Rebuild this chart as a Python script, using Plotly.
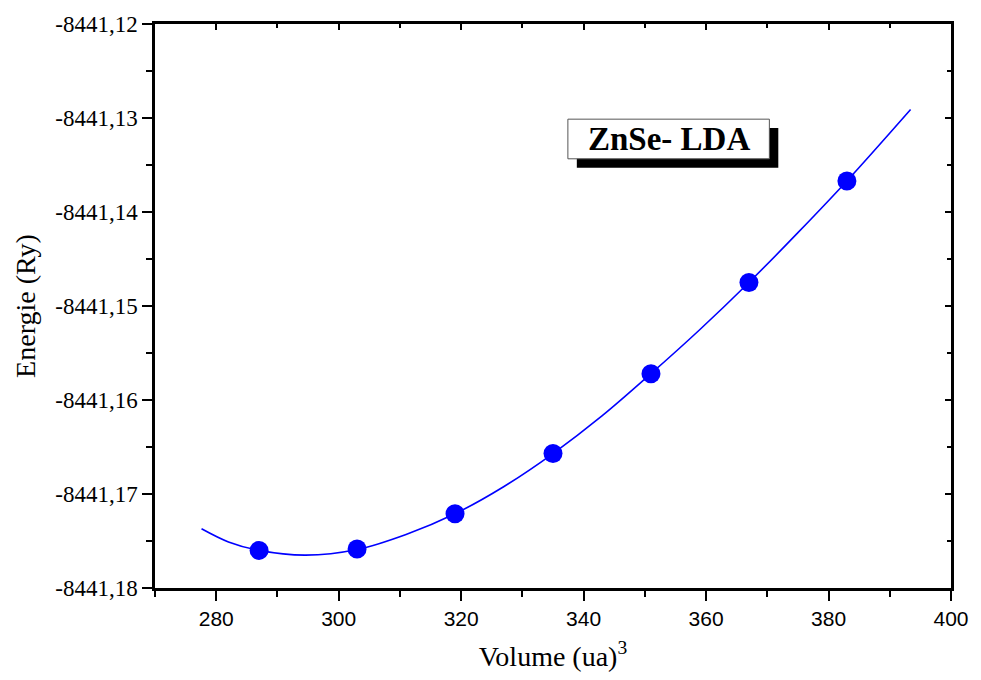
import plotly.graph_objects as go

# ---- data ----
volume = [287, 303, 319, 335, 351, 367, 383]
energy = [-8441.1760, -8441.17585, -8441.1721, -8441.1657, -8441.1572, -8441.1475, -8441.1367]

fit_volume = [277.6, 282, 287, 294.6, 303, 311, 319, 327, 335, 343, 351, 359, 367, 375, 383, 393.4]
fit_energy = [-8441.1737, -8441.1751, -8441.1760, -8441.1765, -8441.1759, -8441.1743,
              -8441.1721, -8441.1692, -8441.1657, -8441.1617, -8441.1572, -8441.1525,
              -8441.1475, -8441.1422, -8441.1367, -8441.1291]

xtick_vals = [280, 300, 320, 340, 360, 380, 400]
xtick_text = ["280", "300", "320", "340", "360", "380", "400"]
ytick_vals = [-8441.18, -8441.17, -8441.16, -8441.15, -8441.14, -8441.13, -8441.12]
ytick_text = ["-8441,18", "-8441,17", "-8441,16", "-8441,15", "-8441,14", "-8441,13", "-8441,12"]

label_text = "ZnSe- LDA"
x_title = "Volume (ua)<sup>3</sup>"
y_title = "Energie (Ry)"

X_RANGE = [270, 400]
Y_RANGE = [-8441.18, -8441.12]

# ---- layout geometry (pixels) ----
W, H = 981, 680
L, R, T, B = 155, 957, 19, 588
PW, PH = R - L, B - T


def px(xp):
    return (xp - L) / PW


def py(yp):
    return (B - yp) / PH


BLUE = "#0000ff"
SERIF = "Liberation Serif, Times New Roman, serif"
SANS = "Liberation Sans, Arial, sans-serif"

fig = go.Figure()
fig.add_trace(go.Scatter(x=fit_volume, y=fit_energy, mode="lines",
                         line=dict(color=BLUE, width=1.6, shape="spline", smoothing=1.0),
                         showlegend=False, hoverinfo="skip"))
fig.add_trace(go.Scatter(x=volume, y=energy, mode="markers",
                         marker=dict(color=BLUE, size=19, line=dict(width=0)),
                         showlegend=False))
# invisible trace for mirrored axes
fig.add_trace(go.Scatter(x=[None], y=[None], xaxis="x2", yaxis="y2", showlegend=False,
                         hoverinfo="skip"))

axis_common = dict(showgrid=False, zeroline=False, showline=True, linecolor="black",
                   linewidth=2.5, tickcolor="black", tickwidth=2)

fig.update_layout(
    width=W, height=H,
    margin=dict(l=L, r=W - R, t=T, b=H - B, pad=0),
    paper_bgcolor="white", plot_bgcolor="white",
    xaxis=dict(range=X_RANGE, tickvals=xtick_vals, ticktext=xtick_text,
               ticks="outside", ticklen=10,
               minor=dict(dtick=10, tick0=270, ticks="outside", ticklen=6,
                          tickwidth=2, tickcolor="black"),
               tickfont=dict(family=SANS, size=21, color="black"),
               title=dict(text=x_title, font=dict(family=SERIF, size=28, color="black"),
                          standoff=18),
               **axis_common),
    yaxis=dict(range=Y_RANGE, tickvals=ytick_vals, ticktext=ytick_text,
               ticks="outside", ticklen=10,
               minor=dict(dtick=0.005, tick0=-8441.18, ticks="outside", ticklen=6,
                          tickwidth=2, tickcolor="black"),
               tickfont=dict(family=SERIF, size=23, color="black"),
               title=dict(text=y_title, font=dict(family=SERIF, size=28, color="black"),
                          standoff=12),
               **axis_common),
    xaxis2=dict(range=X_RANGE, overlaying="x", side="top", anchor="y2",
                tickvals=xtick_vals, showticklabels=False,
                ticks="inside", ticklen=6,
                minor=dict(dtick=10, tick0=270, ticks="inside", ticklen=4,
                           tickwidth=2, tickcolor="black"),
                **axis_common),
    yaxis2=dict(range=Y_RANGE, overlaying="y", side="right", anchor="x2",
                tickvals=ytick_vals, showticklabels=False,
                ticks="inside", ticklen=6,
                minor=dict(dtick=0.005, tick0=-8441.18, ticks="inside", ticklen=4,
                           tickwidth=2, tickcolor="black"),
                **axis_common),
)

# label box with drop shadow
box_l, box_r, box_t, box_b = 571, 774, 115, 155
shadow_dx, shadow_dy = 9, 9
fig.add_shape(type="rect", xref="paper", yref="paper",
              x0=px(box_l + shadow_dx), x1=px(box_r + shadow_dx),
              y0=py(box_b + shadow_dy), y1=py(box_t + shadow_dy),
              fillcolor="black", line=dict(width=0), layer="above")
fig.add_shape(type="rect", xref="paper", yref="paper",
              x0=px(box_l), x1=px(box_r), y0=py(box_b), y1=py(box_t),
              fillcolor="white", line=dict(color="#555555", width=1), layer="above")
fig.add_annotation(xref="paper", yref="paper",
                   x=px((box_l + box_r) / 2), y=py((box_t + box_b) / 2),
                   text="<b>" + label_text + "</b>", showarrow=False,
                   xanchor="center", yanchor="middle",
                   font=dict(family=SERIF, size=33, color="black"))

fig.write_html("out.html")
